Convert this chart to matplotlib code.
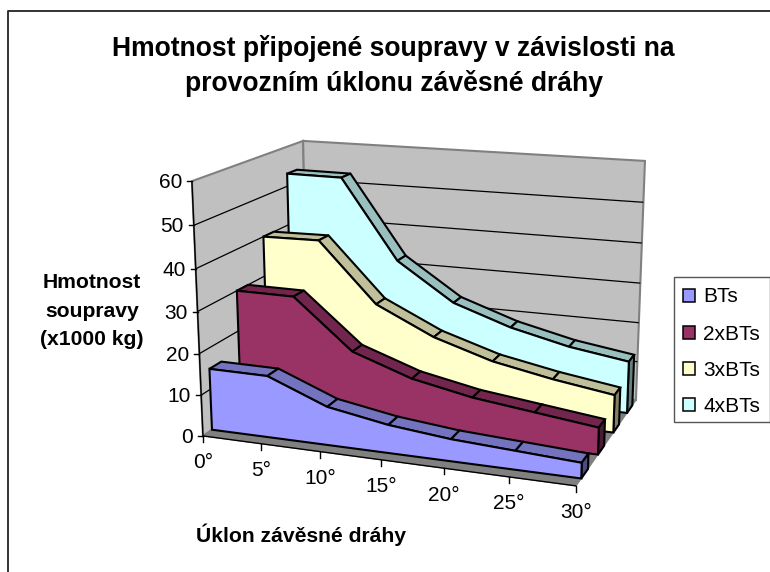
import matplotlib
matplotlib.use("Agg")
import matplotlib.pyplot as plt
from matplotlib.colors import to_rgb
from matplotlib.patches import Rectangle
import numpy as np

plt.rcParams["font.family"] = ["Liberation Sans", "DejaVu Sans"]

# Chart data
categories = ["0°", "5°", "10°", "15°", "20°", "25°", "30°"]
series_names = ["BTs", "2xBTs", "3xBTs", "4xBTs"]
bts = [15.0, 14.9, 9.2, 6.7, 5.2, 4.4, 3.6]
bts2 = [30.0, 29.9, 17.9, 12.9, 10.0, 8.2, 6.4]
bts3 = [40.0, 40.2, 25.5, 18.7, 14.2, 11.4, 9.2]
bts4 = [53.2, 53.1, 33.0, 23.5, 18.6, 15.2, 13.0]
series_values = [bts, bts2, bts3, bts4]
y_ticks = [0, 10, 20, 30, 40, 50, 60]
colors = ["#9999FF", "#993366", "#FFFFCC", "#CCFFFF"]

# Where the 3D box of the chart sits in the image: (category, depth, value) -> pixel
box_corners = [
    ((0, 0, 0), (203, 436)),
    ((0, 0, 60), (192, 181)),
    ((0, 1, 60), (303, 141)),
    ((6, 1, 60), (645, 161)),
    ((6, 1, 0), (636, 400)),
    ((6, 0, 0), (576, 486)),
]


def fit_camera(corners):
    rows = []
    rhs = []
    for (x, d, z), (u, v) in corners:
        rows.append([x, d, z, 1, 0, 0, 0, 0, -u * x, -u * d, -u * z])
        rows.append([0, 0, 0, 0, x, d, z, 1, -v * x, -v * d, -v * z])
        rhs += [u, v]
    p = np.linalg.lstsq(np.array(rows, float), np.array(rhs, float), rcond=None)[0]
    return np.append(p, 1.0).reshape(3, 4)


camera = fit_camera(box_corners)


def project(x, d, z):
    u, v, w = camera @ np.array([x, d, z, 1.0])
    return u / w, v / w


def face(ax, pts, fc, ec="black", lw=1.5, zorder=3):
    xy = [project(*p) for p in pts]
    ax.fill(*zip(*xy), facecolor=fc, edgecolor=ec, linewidth=lw, joinstyle="miter", zorder=zorder)


def line(ax, p1, p2, color="black", lw=0.9):
    a, b = project(*p1), project(*p2)
    ax.plot([a[0], b[0]], [a[1], b[1]], color=color, linewidth=lw, solid_capstyle="butt", zorder=2)


def shade(color, k):
    return tuple(c * k for c in to_rgb(color))


fig = plt.figure(figsize=(7.7, 5.72), dpi=100)
ax = fig.add_axes([0, 0, 1, 1])
ax.set_xlim(0, 770)
ax.set_ylim(572, 0)
ax.axis("off")

# chart frame, runs off the right and bottom of the image
ax.plot([7.5, 7.5, 770], [572, 10.5, 10.5], color="#222222", linewidth=1.3)

last = len(categories) - 1
top = y_ticks[-1]

# walls and floor
face(ax, [(0, 0, 0), (0, 1, 0), (0, 1, top), (0, 0, top)], "#C0C0C0", "#808080", zorder=1)
face(ax, [(0, 1, 0), (last, 1, 0), (last, 1, top), (0, 1, top)], "#C0C0C0", "#808080", zorder=1)
face(ax, [(0, 0, 0), (last, 0, 0), (last, 1, 0), (0, 1, 0)], "#808080", "#808080", 0.8, zorder=1)

# gridlines
for v in y_ticks[1:-1]:
    line(ax, (0, 0, v), (0, 1, v))
    line(ax, (0, 1, v), (last, 1, v))

# axis lines and ticks
line(ax, (0, 0, 0), (0, 0, top), lw=1.0)
line(ax, (0, 0, 0), (last, 0, 0), lw=1.0)
for v in y_ticks:
    u0, v0 = project(0, 0, v)
    ax.plot([u0 - 5, u0], [v0, v0], color="black", linewidth=1.0)
    ax.text(u0 - 10, v0 - 0.5, str(v), ha="right", va="center_baseline", fontsize=15)
for i, lab in enumerate(categories):
    u0, v0 = project(i, 0, 0)
    ax.plot([u0, u0], [v0, v0 + 6], color="black", linewidth=1.0)
    ax.text(u0, v0 + 25, lab, ha="center", va="center_baseline", fontsize=15)

# series, back to front
depth_front = [0.075, 0.33, 0.585, 0.83]
ribbon = 0.1
for k in range(len(series_values) - 1, -1, -1):
    vals = series_values[k]
    d0 = depth_front[k]
    d1 = d0 + ribbon
    col = colors[k]
    for i in range(last):
        face(ax, [(i, d0, vals[i]), (i + 1, d0, vals[i + 1]),
                  (i + 1, d1, vals[i + 1]), (i, d1, vals[i])], shade(col, 0.75))
    face(ax, [(last, d0, 0), (last, d1, 0), (last, d1, vals[last]), (last, d0, vals[last])],
         shade(col, 0.5))
    pts = [(0, d0, 0)] + [(i, d0, vals[i]) for i in range(last + 1)] + [(last, d0, 0)]
    face(ax, pts, col)

# titles
ax.text(393.5, 55.5, "Hmotnost připojené soupravy v závislosti na", ha="center", va="baseline",
        fontsize=19.1, fontweight="bold")
ax.text(394, 91, "provozním úklonu závěsné dráhy", ha="center", va="baseline",
        fontsize=19.1, fontweight="bold")
ax.text(92, 288, "Hmotnost", ha="center", va="baseline", fontsize=15.2, fontweight="bold")
ax.text(92, 317, "soupravy", ha="center", va="baseline", fontsize=15.2, fontweight="bold")
ax.text(92, 345, "(x1000 kg)", ha="center", va="baseline", fontsize=15.2, fontweight="bold")
ax.text(301, 542, "Úklon závěsné dráhy", ha="center", va="baseline", fontsize=15.2, fontweight="bold")

# legend
ax.add_patch(Rectangle((673.5, 277), 96, 145, facecolor="white", edgecolor="#555555", linewidth=1.0))
for name, col, yy in zip(series_names, colors, [295, 332, 368, 404]):
    ax.add_patch(Rectangle((682.5, yy - 6), 12.5, 12.5, facecolor=col, edgecolor="black", linewidth=1.1))
    ax.text(703, yy, name, ha="left", va="center_baseline", fontsize=15)

fig.savefig("out.png", dpi=100)
